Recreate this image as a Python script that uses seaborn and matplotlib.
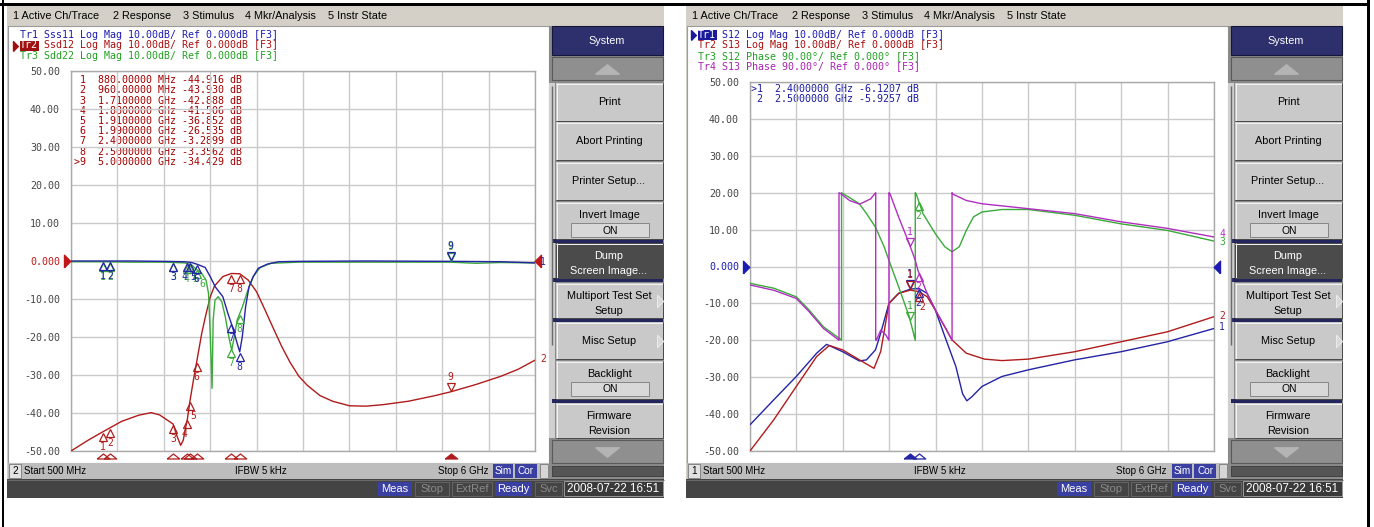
import numpy as np
import pandas as pd
import matplotlib
matplotlib.use("Agg")
import matplotlib.pyplot as plt
import matplotlib.patches as mpatches
import matplotlib.transforms as mtrans
import seaborn as sns

# ================= DATA =================
# ---- left screen: mixed-mode S-parameters, frequency in GHz, value in dB ----
sss11_freq = [0.50, 0.80, 1.20, 1.60, 1.85, 1.93, 2.00, 2.09, 2.15, 2.21, 2.30, 2.36, 2.40,
              2.43, 2.47, 2.50, 2.53, 2.57, 2.61, 2.66, 2.72, 2.83, 2.96, 3.20, 4.00, 5.00,
              5.60, 6.00]
sss11_db = [0.0, 0.0, 0.0, -0.1, -0.2, -0.4, -0.9, -1.7, -4.1, -6.8, -9.4, -13.8, -16.4,
            -18.6, -21.7, -23.9, -20.0, -12.0, -6.8, -4.1, -1.9, -0.8, -0.2, -0.1, 0.0, -0.1,
            -0.2, -0.5]

sdd22_freq = [0.50, 0.80, 1.20, 1.60, 1.85, 1.93, 1.96, 2.05, 2.10, 2.13, 2.15, 2.172, 2.185,
              2.207, 2.244, 2.287, 2.329, 2.371, 2.405, 2.435, 2.469, 2.533, 2.596, 2.66, 2.744,
              2.871, 3.20, 4.00, 5.00, 5.30, 5.60, 6.00]
sdd22_db = [-0.2, -0.2, -0.3, -0.3, -0.5, -1.0, -1.7, -3.3, -5.0, -8.5, -19.0, -33.5, -15.6,
            -10.3, -9.4, -10.7, -14.7, -20.0, -23.5, -20.0, -15.6, -12.0, -7.7, -4.1, -1.7,
            -0.6, -0.3, -0.3, -0.3, -0.6, -0.4, -0.5]

ssd12_freq = [0.50, 0.60, 0.70, 0.88, 0.96, 1.10, 1.30, 1.45, 1.55, 1.65, 1.71, 1.76, 1.80,
              1.83, 1.88, 1.91, 1.95, 1.99, 2.05, 2.10, 2.15, 2.20, 2.30, 2.40, 2.50, 2.60,
              2.70, 2.80, 2.90, 3.00, 3.10, 3.20, 3.30, 3.45, 3.60, 3.80, 4.00, 4.20, 4.50,
              4.80, 5.00, 5.30, 5.60, 5.80, 6.00]
ssd12_db = [-50.0, -48.6, -47.2, -44.916, -43.930, -42.2, -40.6, -39.9, -40.5, -42.0, -42.888,
            -46.3, -48.5, -47.2, -41.506, -36.852, -31.5, -26.535, -19.0, -14.0, -9.5, -6.6,
            -4.1, -3.2899, -3.3562, -5.0, -8.1, -12.9, -17.8, -22.6, -26.8, -30.3, -32.7,
            -35.4, -36.9, -38.1, -38.2, -37.8, -36.9, -35.5, -34.429, -32.5, -30.3, -28.5,
            -26.1]

left_mk_freq = [0.88, 0.96, 1.71, 1.88, 1.91, 1.99, 2.40, 2.50, 5.00]
left_mk_ssd12 = [-44.916, -43.930, -42.888, -41.506, -36.852, -26.535, -3.2899, -3.3562, -34.429]
left_active = 9

# ---- right screen: S12 / S13 magnitude (dB) and phase (deg) ----
s12_mag_freq = [0.50, 0.783, 1.049, 1.29, 1.408, 1.598, 1.797, 1.881, 1.987, 2.05, 2.147,
                2.261, 2.40, 2.50, 2.60, 2.697, 2.81, 2.94, 3.02, 3.07, 3.13, 3.25, 3.487,
                3.80, 4.348, 4.898, 5.447, 6.00]
s12_mag_db = [-42.9, -36.1, -29.8, -23.5, -21.1, -23.1, -25.6, -25.3, -22.6, -18.0, -10.0,
              -7.3, -6.1207, -5.9257, -7.3, -11.8, -19.0, -27.1, -34.5, -36.4, -35.3, -32.5,
              -29.8, -28.0, -25.3, -23.1, -20.4, -16.8]

s13_mag_freq = [0.50, 0.783, 1.049, 1.29, 1.44, 1.598, 1.797, 1.97, 2.05, 2.147, 2.261, 2.40,
                2.50, 2.60, 2.697, 2.895, 3.064, 3.28, 3.487, 3.80, 4.348, 4.898, 5.447, 6.00]
s13_mag_db = [-50.0, -41.5, -32.5, -24.4, -21.4, -22.6, -25.3, -27.6, -23.0, -10.0, -7.3, -6.4,
              -6.8, -8.2, -11.8, -19.9, -23.5, -25.1, -25.5, -25.1, -23.1, -20.4, -17.7, -13.6]

s12_ph_freq = [0.50, 0.783, 1.049, 1.20, 1.37, 1.57, 1.585, 1.585, 1.60, 1.797, 1.881, 1.987,
               2.09, 2.147, 2.261, 2.387, 2.459, 2.459, 2.47, 2.55, 2.697, 2.81, 2.895, 2.98,
               3.064, 3.149, 3.25, 3.487, 3.80, 4.348, 4.898, 5.447, 6.00]
s12_ph_deg = [-41, -53, -74, -106, -147, -177, -180, 180, 178, 153, 129, 96, 48, 15, -49,
              -122, -180, 180, 177, 129, 80, 48, 36, 48, 88, 121, 133, 139, 139, 125, 104,
              88, 62]

s13_ph_freq = [0.50, 0.783, 1.049, 1.20, 1.37, 1.55, 1.555, 1.555, 1.58, 1.68, 1.80, 1.93,
               1.99, 1.99, 2.00, 2.05, 2.11, 2.147, 2.147, 2.16, 2.261, 2.387, 2.459, 2.49,
               2.60, 2.697, 2.81, 2.895, 2.895, 2.90, 3.064, 3.25, 3.80, 4.348, 4.898, 5.447,
               6.00]
s13_ph_deg = [-45, -58, -78, -110, -151, -179, -180, 180, 177, 161, 152, 165, 180, -180, -179,
              -155, -167, -180, 180, 177, 121, 56, 15, -9, -66, -106, -147, -180, 180, 177,
              161, 153, 141, 129, 109, 93, 72]

right_mk_freq = [2.40, 2.50]
right_mk_s12 = [-6.1207, -5.9257]
right_active = 1

ytick_vals = [-50, -40, -30, -20, -10, 0, 10, 20, 30, 40, 50]
ytick_text = ['-50.00', '-40.00', '-30.00', '-20.00', '-10.00', '0.000',
              '10.00', '20.00', '30.00', '40.00', '50.00']

menu_items = ['1 Active Ch/Trace', '2 Response', '3 Stimulus', '4 Mkr/Analysis', '5 Instr State']
left_headers = ['Tr1 Sss11 Log Mag 10.00dB/ Ref 0.000dB [F3]',
                'Tr2 Ssd12 Log Mag 10.00dB/ Ref 0.000dB [F3]',
                'Tr3 Sdd22 Log Mag 10.00dB/ Ref 0.000dB [F3]']
right_headers = ['Tr1 S12 Log Mag 10.00dB/ Ref 0.000dB [F3]',
                 'Tr2 S13 Log Mag 10.00dB/ Ref 0.000dB [F3]',
                 'Tr3 S12 Phase 90.00°/ Ref 0.000° [F3]',
                 'Tr4 S13 Phase 90.00°/ Ref 0.000° [F3]']
softkey_labels = [['Print'], ['Abort Printing'], ['Printer Setup...'], ['Invert Image'],
                  ['Dump', 'Screen Image...'], ['Multiport Test Set', 'Setup'], ['Misc Setup'],
                  ['Backlight'], ['Firmware', 'Revision']]
status_items = ['Meas', 'Stop', 'ExtRef', 'Ready', 'Svc']
date_text = '2008-07-22 16:51'

# ================= STYLE =================
W, H = 1374, 527
sns.set_theme(style="white")
plt.rcParams['font.family'] = ['Liberation Sans', 'DejaVu Sans']
UI = ['Liberation Sans', 'DejaVu Sans']
MONO = ['DejaVu Sans Mono']

BLUE, RED, GREEN, MAG = '#2424a6', '#b01c1c', '#3aaa3a', '#b02ec0'
HBLUE, HRED, HGREEN, HMAG = '#1c1cb0', '#a81010', '#22a022', '#a822b4'
NAVY = '#2d306c'
SBLUE = '#3a3fa2'

fig = plt.figure(figsize=(W / 100, H / 100), dpi=100)
fig.patch.set_facecolor('white')
bg = fig.add_axes([0, 0, 1, 1])
bg.set_xlim(0, W)
bg.set_ylim(H, 0)
bg.axis('off')


def rect(x0, y0, x1, y1, fc, ec='none', lw=0.0, z=1):
    bg.add_patch(mpatches.Rectangle((x0, y0), x1 - x0, y1 - y0, facecolor=fc,
                                    edgecolor=ec, linewidth=lw, zorder=z))


def txt(x, y, s, size=7.8, color='black', ha='left', family=None, z=4):
    bg.text(x, y, s, fontsize=size, color=color, ha=ha, va='center',
            family=family or UI, zorder=z)


def line(xs, ys, color, lw=1.0, z=3):
    bg.plot(xs, ys, color=color, lw=lw * 0.72, zorder=z, solid_capstyle='butt')


def button(x0, y0, x1, y1, face='#c9c9c9'):
    rect(x0, y0, x1, y1, face, z=2)
    line([x0, x1], [y0 + 0.5, y0 + 0.5], '#f2f2f2')
    line([x0 + 0.5, x0 + 0.5], [y0, y1], '#f2f2f2')
    line([x0, x1], [y1 - 0.5, y1 - 0.5], '#4a4a4a')
    line([x1 - 0.5, x1 - 0.5], [y0, y1], '#4a4a4a')


FLAT_UP = [(-1, -0.4), (1, -0.4), (0, 0.4), (-1, -0.4)]
FLAT_DN = [(-1, 0.4), (1, 0.4), (0, -0.4), (-1, 0.4)]


def screen(ox, ch):
    # base + menu
    rect(ox + 7, 6, ox + 664, 498, '#d4d0c8')
    for s, x in zip(menu_items, [13, 113, 183, 245, 328]):
        txt(ox + x, 16, s, size=7.8)
    # chart window
    rect(ox + 8, 26, ox + 549, 463, 'white', ec='#9c9c9c', lw=0.8)
    # info bar
    rect(ox + 8, 463, ox + 549, 479, '#bdbdbd')
    rect(ox + 9, 464, ox + 21, 478, '#e2e2e2', ec='#7a7a7a', lw=0.6)
    txt(ox + 15, 471, ch, size=7.2, ha='center')
    txt(ox + 24, 471, 'Start 500 MHz', size=7.0)
    txt(ox + 261, 471, 'IFBW 5 kHz', size=7.0, ha='center')
    txt(ox + 488, 471, 'Stop 6 GHz', size=7.0, ha='right')
    rect(ox + 493, 464, ox + 513, 478, SBLUE, z=2)
    txt(ox + 503, 471, 'Sim', size=7.2, color='white', ha='center')
    rect(ox + 515, 464, ox + 537, 478, SBLUE, z=2)
    txt(ox + 526, 471, 'Cor', size=7.2, color='white', ha='center')
    rect(ox + 540, 464, ox + 548, 478, '#d6d6d6', ec='#7a7a7a', lw=0.6, z=2)
    # status bar
    rect(ox + 7, 479, ox + 664, 498, '#444444')
    line([ox + 7, ox + 664], [479.5, 479.5], '#6a6a6a')
    xs = [(378, 412), (415, 449), (452, 492), (495, 532), (535, 562)]
    for s, (a, b) in zip(status_items, xs):
        if s in ('Meas', 'Ready'):
            rect(ox + a, 482, ox + b, 496, SBLUE, z=2)
            txt(ox + (a + b) / 2, 489, s, size=8.0, color='white', ha='center')
        else:
            rect(ox + a, 482, ox + b, 496, '#444444', ec='#6a6a6a', lw=0.6, z=2)
            txt(ox + (a + b) / 2, 489, s, size=8.0, color='#8a8a8a', ha='center')
    rect(ox + 564, 481, ox + 663, 496, '#3a3a3a', ec='#9a9a9a', lw=0.7, z=2)
    txt(ox + 613.5, 488.5, date_text, size=8.4, color='white', ha='center')
    # softkey panel
    rect(ox + 549, 26, ox + 664, 479, '#8a8a8a')
    rect(ox + 549, 83, ox + 555, 438, '#d0d0d0')
    line([ox + 552, ox + 552], [86, 345], '#6a6a6a', lw=1.4)
    rect(ox + 552, 26, ox + 663, 55, NAVY, ec='#15163a', lw=0.8, z=2)
    txt(ox + 607, 41, 'System', color='white', ha='center')
    rect(ox + 552, 57, ox + 663, 80, '#8f8f8f', ec='#5a5a5a', lw=0.8, z=2)
    bg.plot([ox + 607], [68.5], marker=FLAT_UP, ms=17, color='#b4b4b4', zorder=4)
    rect(ox + 552, 440, ox + 663, 463, '#8f8f8f', ec='#5a5a5a', lw=0.8, z=2)
    bg.plot([ox + 607], [451.5], marker=FLAT_DN, ms=17, color='#b4b4b4', zorder=4)
    rect(ox + 552, 466, ox + 663, 476, '#555555', ec='#3a3a3a', lw=0.6, z=2)
    keys = [(83, 121, 'n'), (122, 160, 'n'), (162, 200, 'n'), (202, 239, 't'),
            (243, 278, 'd'), (283, 318, 's'), (322, 359, 's'), (361, 399, 't'), (403, 438, 'n')]
    for y0, y1 in [(239, 243), (278, 282), (318, 322), (399, 403)]:
        rect(ox + 552, y0, ox + 663, y1, '#23265c', z=2)
    cx = ox + 609
    for (y0, y1, kind), lab in zip(keys, softkey_labels):
        if kind == 'd':
            button(ox + 556, y0, ox + 663, y1, face='#4b4b4b')
            txt(cx, y0 + 13, lab[0], color='white', ha='center')
            txt(cx, y0 + 28, lab[1], color='white', ha='center')
            continue
        button(ox + 556, y0, ox + 663, y1)
        if kind == 't':
            txt(cx, y0 + 13, lab[0], ha='center')
            rect(ox + 571, y0 + 21, ox + 649, y0 + 35, '#d8d8d8', ec='#7a7a7a', lw=0.6, z=3)
            txt(ox + 610, y0 + 28.5, 'ON', size=7.4, ha='center')
        elif len(lab) == 2:
            txt(cx, y0 + 13, lab[0], ha='center')
            txt(cx, y0 + 28, lab[1], ha='center')
        else:
            txt(cx, (y0 + y1) / 2, lab[0], ha='center')
        if kind == 's':
            bg.plot([ox + 657], [(y0 + y1) / 2], marker=[(0, -1), (0, 1), (1, 0), (0, -1)],
                    ms=9, mfc='#d8d8d8', mec='#f0f0f0', mew=0.6, zorder=4)


def headers(ox, y_rows, texts, colors, active_idx, hl_color):
    x0 = ox + 20
    cw = 6.02
    for i, (s, c, y) in enumerate(zip(texts, colors, y_rows)):
        if i == active_idx:
            rect(x0 - 0.5, y - 5, x0 + 3 * cw + 0.5, y + 5, hl_color, z=3)
            bg.plot([ox + 13], [y], marker=[(0, -1), (0, 1), (1, 0), (0, -1)], ms=7,
                    color=hl_color, zorder=4)
            txt(x0, y, s[:3], size=7.2, color='white', family=MONO, z=5)
            txt(x0 + 4 * cw, y, s[4:], size=7.2, color=c, family=MONO)
        else:
            txt(x0, y, s, size=7.2, color=c, family=MONO)


def fmt_freq(f):
    return f"{f * 1000:.5f} MHz" if f < 1 else f"{f:.7f} GHz"


def table(x, y0, dy, freqs, vals, active, color):
    for i, (f, v) in enumerate(zip(freqs, vals)):
        n = i + 1
        s = f"{'>' if n == active else ' '}{n}  {fmt_freq(f)} {v:#.5g} dB"
        txt(x, y0 + i * dy, s, size=7.2, color=color, family=MONO)


def trace(ax, f, v, color):
    df = pd.DataFrame({'freq': f, 'val': v})
    sns.lineplot(data=df, x='freq', y='val', ax=ax, color=color, linewidth=1.0,
                 estimator=None, sort=False, legend=False, zorder=3)


def make_ax(x0, y0, x1, y1):
    return fig.add_axes([x0 / W, 1 - y1 / H, (x1 - x0) / W, (y1 - y0) / H])


def style_ax(ax, zero_color):
    ax.set_facecolor('none')
    ax.set_xlim(0.5, 6.0)
    ax.set_ylim(-50, 50)
    ax.set_xticks(np.linspace(0.5, 6.0, 11))
    ax.set_xticklabels([])
    ax.set_yticks(ytick_vals)
    ax.set_yticklabels(ytick_text)
    ax.tick_params(length=0, pad=8, labelsize=7.2, labelcolor='#454545')
    for lab in ax.get_yticklabels():
        lab.set_family(MONO)
        if lab.get_text() == '0.000':
            lab.set_color(zero_color)
    ax.set_axisbelow(True)
    ax.grid(True, color='#cacaca', lw=1.0)
    for sp in ax.spines.values():
        sp.set_color('#a9a9a9')
        sp.set_linewidth(1.0)
    ax.set_xlabel('')
    ax.set_ylabel('')
    # reference-level arrows
    lt = mtrans.offset_copy(ax.transData, fig=fig, x=-7, y=0, units='dots')
    ax.plot([0.5], [0], marker=[(0, -1), (0, 1), (1, 0), (0, -1)], ms=9, color=zero_color,
            transform=lt, clip_on=False, zorder=6)
    rt = mtrans.offset_copy(ax.transData, fig=fig, x=6, y=0, units='dots')
    ax.plot([6.0], [0], marker=[(0, -1), (0, 1), (-1, 0), (0, -1)], ms=9, color=zero_color,
            transform=rt, clip_on=False, zorder=6)


def mark(ax, f, v, label, color, active, dx=0):
    sgn = 1 if active else -1
    tri = mtrans.offset_copy(ax.transData, fig=fig, x=0, y=sgn * 5, units='dots')
    ax.plot([f], [v], marker='v' if active else '^', ms=6, mfc='none', mec=color, mew=0.9,
            transform=tri, clip_on=False, zorder=5)
    tt = mtrans.offset_copy(ax.transData, fig=fig, x=dx, y=sgn * 15, units='dots')
    ax.text(f, v, label, transform=tt, ha='center', va='center', fontsize=7, color=color,
            family=MONO, zorder=6)


def stim_marks(ax, freqs, active, color):
    bt = mtrans.offset_copy(mtrans.blended_transform_factory(ax.transData, ax.transAxes),
                            fig=fig, x=0, y=-5, units='dots')
    for i, f in enumerate(freqs):
        filled = (i + 1) == active
        ax.plot([f], [0], marker=FLAT_UP, ms=9, mfc=color if filled else 'none', mec=color,
                mew=0.9, transform=bt, clip_on=False, zorder=6)


def end_label(ax, v, s, color):
    t = mtrans.offset_copy(ax.transData, fig=fig, x=5, y=1, units='dots')
    ax.text(6.0, v, s, transform=t, ha='left', va='center', fontsize=7, color=color,
            family=MONO, zorder=6, clip_on=False)


# ================= outer frame =================
rect(0, 3, 1370, 6, 'black', z=6)
rect(1.5, 0, 3.5, H, 'black', z=6)
rect(1367, 0, 1369.5, H, 'black', z=6)

# ================= LEFT SCREEN =================
screen(0, '2')
headers(0, [35, 45.5, 56], left_headers, [HBLUE, HRED, HGREEN], 1, '#a01010')
table(74, 80, 10.25, left_mk_freq, left_mk_ssd12, left_active, '#a00000')

axL = make_ax(71, 71, 535, 451)
trace(axL, ssd12_freq, ssd12_db, RED)
trace(axL, sdd22_freq, sdd22_db, GREEN)
trace(axL, sss11_freq, sss11_db, BLUE)
style_ax(axL, '#c01818')
for tr_f, tr_v, col, dxs in [(ssd12_freq, ssd12_db, RED, {4: -3, 5: 3}),
                             (sdd22_freq, sdd22_db, GREEN, {4: -1, 5: 5, 6: 6}),
                             (sss11_freq, sss11_db, BLUE, {4: -3, 5: 3})]:
    for i, f in enumerate(left_mk_freq):
        n = i + 1
        mark(axL, f, float(np.interp(f, tr_f, tr_v)), str(n), col, n == left_active,
             dx=dxs.get(n, 0))
stim_marks(axL, left_mk_freq, left_active, RED)
end_label(axL, sss11_db[-1], '1', BLUE)
end_label(axL, ssd12_db[-1], '2', RED)

# ================= RIGHT SCREEN =================
OXR = 679
screen(OXR, '1')
headers(OXR - 1, [35, 45.5, 56, 66], right_headers, [HBLUE, HRED, HGREEN, HMAG], 0, '#1a1a9a')
table(751, 89, 10.5, right_mk_freq, right_mk_s12, right_active, '#1a1aa0')

axR = make_ax(750, 82, 1214, 451)
s12_ph_disp = [d / 90.0 * 10.0 for d in s12_ph_deg]   # 90 deg/div on the 10 dB/div grid
s13_ph_disp = [d / 90.0 * 10.0 for d in s13_ph_deg]
trace(axR, s12_mag_freq, s12_mag_db, BLUE)
trace(axR, s13_mag_freq, s13_mag_db, RED)
trace(axR, s12_ph_freq, s12_ph_disp, GREEN)
trace(axR, s13_ph_freq, s13_ph_disp, MAG)
style_ax(axR, '#1c1cb0')
for tr_f, tr_v, col, dx in [(s12_mag_freq, s12_mag_db, BLUE, 0),
                            (s13_mag_freq, s13_mag_db, RED, 4),
                            (s12_ph_freq, s12_ph_disp, GREEN, 0),
                            (s13_ph_freq, s13_ph_disp, MAG, 0)]:
    for i, f in enumerate(right_mk_freq):
        n = i + 1
        mark(axR, f, float(np.interp(f, tr_f, tr_v)), str(n), col, n == right_active,
             dx=dx if n != right_active else 0)
stim_marks(axR, right_mk_freq, right_active, BLUE)
end_label(axR, s13_ph_disp[-1] + 0.6, '4', MAG)
end_label(axR, s12_ph_disp[-1] - 0.6, '3', GREEN)
end_label(axR, s13_mag_db[-1], '2', RED)
end_label(axR, s12_mag_db[-1], '1', BLUE)

fig.savefig('out.png', dpi=100)
